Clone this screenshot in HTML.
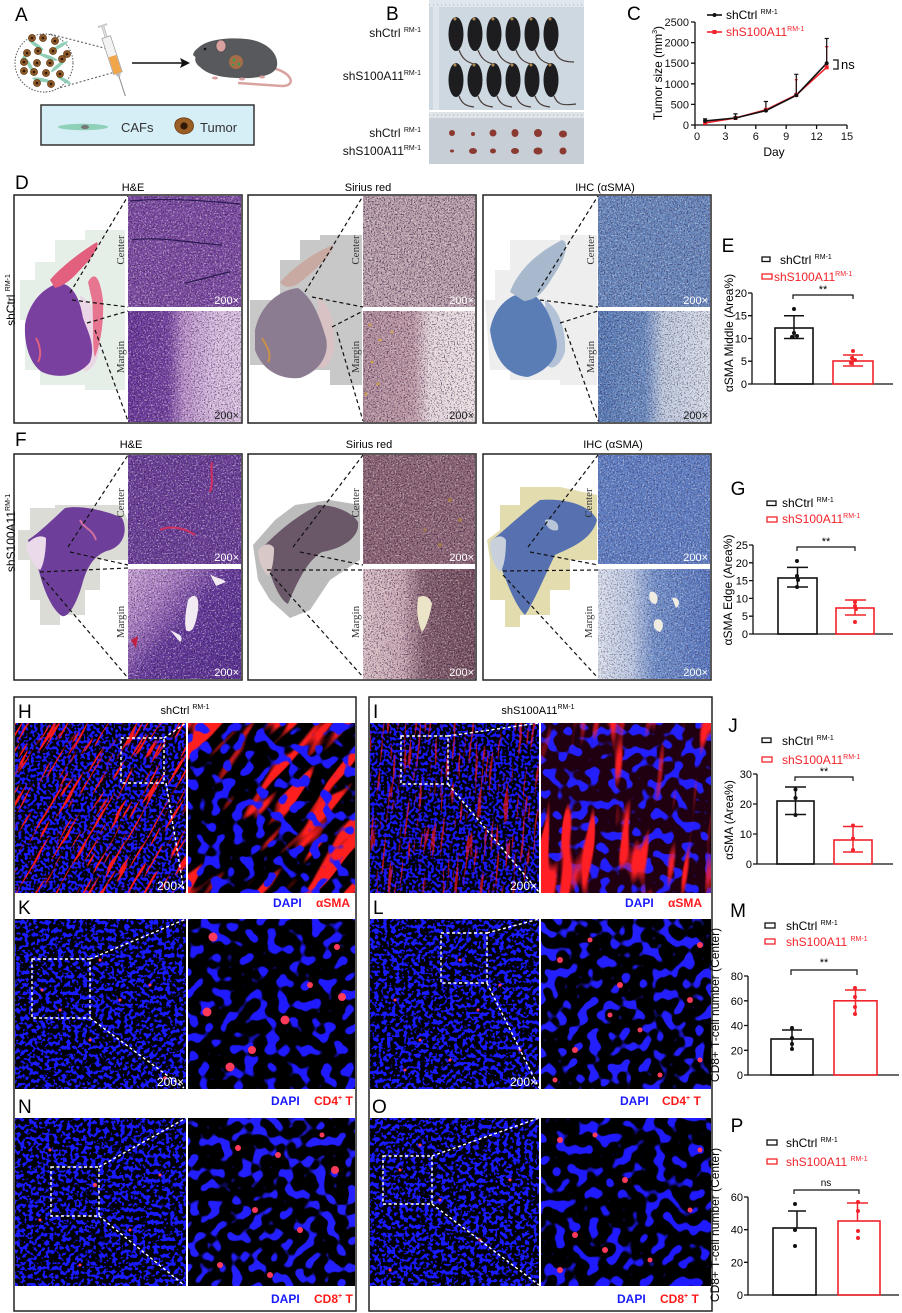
<!DOCTYPE html>
<html><head><meta charset="utf-8"><style>
html,body{margin:0;padding:0;background:#fff}
svg{display:block;font-family:"Liberation Sans",Arial,sans-serif}
.ax{stroke:#111;stroke-width:1.3;fill:none}
.bk{fill:none;stroke:#111;stroke-width:1.6}
.rd{fill:none;stroke:#f2232a;stroke-width:1.6}
.dl{stroke:#111;stroke-width:1.2;stroke-dasharray:4 3;fill:none}
.wl{stroke:#fff;stroke-width:1.4;stroke-dasharray:3 2.5;fill:none}
.bx{fill:none;stroke:#222;stroke-width:1.5}
.sv{font-family:"Liberation Serif",serif;font-size:11px;fill:#333}
.w2{fill:#fff;font-size:11px}
</style></head><body>
<svg width="902" height="1313" viewBox="0 0 902 1313" xmlns="http://www.w3.org/2000/svg">
<defs>
<filter id="spW" x="0" y="0" width="1" height="1" color-interpolation-filters="sRGB"><feTurbulence type="fractalNoise" baseFrequency="0.6" numOctaves="2" seed="1"/><feColorMatrix type="matrix" values="0 0 0 0 1 0 0 0 0 1 0 0 0 0 1 10 0 0 0 -5.6"/></filter>
<filter id="spK" x="0" y="0" width="1" height="1" color-interpolation-filters="sRGB"><feTurbulence type="fractalNoise" baseFrequency="0.7" numOctaves="2" seed="4"/><feColorMatrix type="matrix" values="0 0 0 0 0.12 0 0 0 0 0.02 0 0 0 0 0.18 10 0 0 0 -5.5"/></filter>
<filter id="nLo" x="0" y="0" width="1" height="1" color-interpolation-filters="sRGB"><feTurbulence type="fractalNoise" baseFrequency="0.32" numOctaves="1" seed="3"/><feColorMatrix type="matrix" values="0 0 0 0 0.1 0 0 0 0 0.1 0 0 0 0 1 14 0 0 0 -6.8"/></filter>
<filter id="nLo2" x="0" y="0" width="1" height="1" color-interpolation-filters="sRGB"><feTurbulence type="fractalNoise" baseFrequency="0.24" numOctaves="2" seed="11"/><feColorMatrix type="matrix" values="0 0 0 0 0.1 0 0 0 0 0.1 0 0 0 0 1 14 0 0 0 -7"/></filter>
<filter id="nHi" x="0" y="0" width="1" height="1" color-interpolation-filters="sRGB"><feTurbulence type="fractalNoise" baseFrequency="0.09" numOctaves="1" seed="5"/><feColorMatrix type="matrix" values="0 0 0 0 0.12 0 0 0 0 0.1 0 0 0 0 1 16 0 0 0 -8.6"/></filter>
<filter id="nHi2" x="0" y="0" width="1" height="1" color-interpolation-filters="sRGB"><feTurbulence type="fractalNoise" baseFrequency="0.095" numOctaves="1" seed="9"/><feColorMatrix type="matrix" values="0 0 0 0 0.14 0 0 0 0 0.12 0 0 0 0 1 16 0 0 0 -8.5"/></filter>
<filter id="fThin" x="0" y="0" width="1" height="1" color-interpolation-filters="sRGB"><feTurbulence type="fractalNoise" baseFrequency="0.025 0.35" numOctaves="2" seed="8"/><feColorMatrix type="matrix" values="0 0 0 0 1 0 0 0 0 0.1 0 0 0 0 0.1 12 0 0 0 -7.2"/></filter>
<filter id="fThick" x="0" y="0" width="1" height="1" color-interpolation-filters="sRGB"><feTurbulence type="fractalNoise" baseFrequency="0.012 0.06" numOctaves="2" seed="6"/><feColorMatrix type="matrix" values="0 0 0 0 1 0 0 0 0 0.12 0 0 0 0 0.12 12 0 0 0 -6.4"/></filter>
<filter id="fThick2" x="0" y="0" width="1" height="1" color-interpolation-filters="sRGB"><feTurbulence type="fractalNoise" baseFrequency="0.01 0.055" numOctaves="2" seed="13"/><feColorMatrix type="matrix" values="0 0 0 0 1 0 0 0 0 0.12 0 0 0 0 0.14 12 0 0 0 -6.6"/></filter>
<linearGradient id="gHEb"><stop offset="0" stop-color="#69389a"/><stop offset=".35" stop-color="#7444a0"/><stop offset=".5" stop-color="#b890c9"/><stop offset=".75" stop-color="#d4b8dd"/><stop offset="1" stop-color="#dac2e2"/></linearGradient>
<linearGradient id="gSRb"><stop offset="0" stop-color="#b08c9a"/><stop offset=".45" stop-color="#bc98a4"/><stop offset=".6" stop-color="#e4d6da"/><stop offset="1" stop-color="#ebe1e3"/></linearGradient>
<linearGradient id="gIHb"><stop offset="0" stop-color="#577ab5"/><stop offset=".42" stop-color="#6a8bc0"/><stop offset=".58" stop-color="#bdc9dd"/><stop offset="1" stop-color="#d6dde8"/></linearGradient>
<linearGradient id="gFHb" x1="0" y1="0" x2="1" y2=".8"><stop offset="0" stop-color="#caa6d6"/><stop offset=".3" stop-color="#a57ac0"/><stop offset=".55" stop-color="#64399a"/><stop offset="1" stop-color="#5a3292"/></linearGradient>
<linearGradient id="gFSb"><stop offset="0" stop-color="#d8bec4"/><stop offset=".35" stop-color="#c8a8b2"/><stop offset=".55" stop-color="#84606e"/><stop offset="1" stop-color="#76525f"/></linearGradient>
<linearGradient id="gFIb"><stop offset="0" stop-color="#d9e0ec"/><stop offset=".3" stop-color="#bac8e2"/><stop offset=".5" stop-color="#7190c9"/><stop offset="1" stop-color="#5877be"/></linearGradient>
<clipPath id="cH1"><rect x="15" y="723" width="171" height="170"/></clipPath>
<clipPath id="cH2"><rect x="188" y="723" width="167" height="170"/></clipPath>
<clipPath id="cI1"><rect x="370" y="723" width="169" height="170"/></clipPath>
<clipPath id="cI2"><rect x="541" y="723" width="170" height="170"/></clipPath>
</defs>

<!-- ===== A ===== -->
<text x="15" y="21" font-size="19">A</text>
<line x1="50" y1="34" x2="112" y2="50" stroke="#555" stroke-width="1" stroke-dasharray="2 2"/>
<line x1="45" y1="92" x2="115" y2="72" stroke="#555" stroke-width="1" stroke-dasharray="2 2"/>
<circle cx="44" cy="63" r="29" fill="#fff" stroke="#555" stroke-width="1" stroke-dasharray="1.5 1.5"/>
<g fill="#8fcfb6">
<ellipse cx="36" cy="45" rx="9" ry="1.8" transform="rotate(35 36 45)"/><ellipse cx="60" cy="46" rx="9" ry="1.8" transform="rotate(-30 60 46)"/>
<ellipse cx="30" cy="66" rx="9" ry="1.8" transform="rotate(60 30 66)"/><ellipse cx="48" cy="57" rx="10" ry="1.8" transform="rotate(20 48 57)"/>
<ellipse cx="58" cy="66" rx="9" ry="1.8" transform="rotate(-40 58 66)"/><ellipse cx="42" cy="80" rx="10" ry="1.8" transform="rotate(10 42 80)"/>
<ellipse cx="64" cy="80" rx="8" ry="1.8" transform="rotate(30 64 80)"/><ellipse cx="24" cy="58" rx="7" ry="1.8" transform="rotate(-60 24 58)"/>
</g>
<g fill="#8e5a28" stroke="#5a3512" stroke-width=".6">
<circle cx="32" cy="38" r="3.6"/><circle cx="43" cy="38" r="3.6"/><circle cx="55" cy="41" r="3.6"/><circle cx="27" cy="53" r="3.6"/><circle cx="38" cy="51" r="3.6"/><circle cx="53" cy="51" r="3.6"/><circle cx="67" cy="54" r="3.6"/><circle cx="24" cy="62" r="3.6"/><circle cx="37" cy="63" r="3.6"/><circle cx="50" cy="63" r="3.6"/><circle cx="62" cy="59" r="3.6"/><circle cx="24" cy="71" r="3.6"/><circle cx="34" cy="72" r="3.6"/><circle cx="46" cy="73" r="3.6"/><circle cx="60" cy="74" r="3.6"/><circle cx="37" cy="83" r="3.6"/><circle cx="51" cy="84" r="3.6"/>
</g>
<g fill="#2e1806"><circle cx="32" cy="38" r="1.3"/><circle cx="43" cy="38" r="1.3"/><circle cx="55" cy="41" r="1.3"/><circle cx="27" cy="53" r="1.3"/><circle cx="38" cy="51" r="1.3"/><circle cx="53" cy="51" r="1.3"/><circle cx="67" cy="54" r="1.3"/><circle cx="24" cy="62" r="1.3"/><circle cx="37" cy="63" r="1.3"/><circle cx="50" cy="63" r="1.3"/><circle cx="62" cy="59" r="1.3"/><circle cx="24" cy="71" r="1.3"/><circle cx="34" cy="72" r="1.3"/><circle cx="46" cy="73" r="1.3"/><circle cx="60" cy="74" r="1.3"/><circle cx="37" cy="83" r="1.3"/><circle cx="51" cy="84" r="1.3"/></g>
<g transform="translate(113,58) rotate(-18)">
<line x1="0" y1="18" x2="0" y2="40" stroke="#8a8a8a" stroke-width="1"/>
<rect x="-1.2" y="-34" width="2.4" height="14" fill="#ddd" stroke="#aaa" stroke-width=".5"/>
<rect x="-5" y="-35" width="10" height="2" fill="#ccc"/>
<rect x="-4.5" y="-22" width="9" height="38" fill="#f3f3f3" stroke="#999" stroke-width=".7"/>
<rect x="-4" y="-2" width="8" height="18" fill="#f0a548"/>
<path d="M-3,16 L3,16 L1,20 L-1,20Z" fill="#bbb"/>
</g>
<line x1="132" y1="63" x2="182" y2="63" stroke="#111" stroke-width="1.5"/>
<path d="M190,63 L180,58 L182,63 L180,68Z" fill="#111"/>
<path d="M272,68 C292,72 297,86 282,86 L238,83" stroke="#d9a3a0" stroke-width="2.5" fill="none"/>
<path d="M198,48 C206,40 226,37 246,39 C266,41 279,53 277,66 C275,76 256,79 236,78 C216,77 206,73 200,67 C196,64 194,60 196,56Z" fill="#58595c"/>
<path d="M194,52 C199,45 209,42 217,46 L214,62 C206,62 198,60 193,55Z" fill="#58595c"/>
<ellipse cx="221" cy="46" rx="5" ry="6" fill="#d9a0a0" stroke="#444" stroke-width=".6"/>
<circle cx="205" cy="49" r="1.3" fill="#111"/>
<ellipse cx="215" cy="78" rx="3" ry="1.5" fill="#d9a0a0"/><ellipse cx="242" cy="79" rx="3" ry="1.5" fill="#d9a0a0"/><ellipse cx="262" cy="77" rx="3" ry="1.5" fill="#d9a0a0"/>
<circle cx="236" cy="62" r="7" fill="#a76c48"/><circle cx="234" cy="60" r="1.5" fill="#3c9a50"/><circle cx="239" cy="64" r="1.5" fill="#3c9a50"/><circle cx="233" cy="65" r="1.2" fill="#3c9a50"/>
<rect x="41" y="105" width="213" height="40" fill="#d6eef6" stroke="#333" stroke-width="1.5"/>
<ellipse cx="83" cy="127" rx="25" ry="3.2" fill="#8fd1b8"/><ellipse cx="85" cy="127" rx="4" ry="2.2" fill="#777"/>
<text x="121" y="132" font-size="13" fill="#333">CAFs</text>
<path d="M176,121 C181,116 190,117 193,123 C195,130 190,134 183,134 C176,133 173,126 176,121Z" fill="#9a5e24" stroke="#6a3a10" stroke-width=".8"/>
<circle cx="184" cy="126" r="3.6" fill="#2e1806"/>
<text x="200" y="132" font-size="13" fill="#333">Tumor</text>

<!-- ===== B ===== -->
<text x="386" y="20" font-size="19">B</text>
<g font-size="12" text-anchor="end" fill="#111">
<text x="421" y="37">shCtrl <tspan font-size="7" dy="-5">RM-1</tspan></text>
<text x="421" y="80">shS100A11<tspan font-size="7" dy="-5">RM-1</tspan></text>
<text x="421" y="137">shCtrl <tspan font-size="7" dy="-5">RM-1</tspan></text>
<text x="421" y="155">shS100A11<tspan font-size="7" dy="-5">RM-1</tspan></text>
</g>
<rect x="429" y="0" width="155" height="110" fill="#cdd8e1"/>
<rect x="429" y="0" width="155" height="7" fill="#dfe6ec"/>
<line x1="429" y1="5" x2="584" y2="5" stroke="#9aa" stroke-width=".8" stroke-dasharray="1 3"/>
<rect x="433" y="7" width="6" height="103" fill="#dde4ea"/>
<rect x="429" y="112" width="155" height="52" fill="#c7ced5"/>
<rect x="429" y="112" width="155" height="6" fill="#dfe4e8"/>
<line x1="429" y1="115" x2="584" y2="115" stroke="#9aa" stroke-width=".8" stroke-dasharray="1 3"/>
<g stroke="#4a3c38" stroke-width="1.2" fill="none">
<path d="M459,50 C462,58 466,62 474,64"/><path d="M478,50 C481,58 485,62 493,64"/><path d="M497,50 C500,58 504,62 512,64"/><path d="M516,50 C519,58 523,62 531,64"/><path d="M535,50 C538,58 542,62 550,64"/><path d="M554,50 C557,58 561,62 574,62"/>
<path d="M459,96 C462,104 466,106 474,107"/><path d="M478,96 C481,104 485,106 493,107"/><path d="M497,96 C500,104 504,106 512,107"/><path d="M516,96 C519,104 523,106 531,107"/><path d="M535,96 C538,104 542,106 550,107"/><path d="M554,96 C557,104 561,106 576,104"/>
</g>
<g fill="#1d1d20">
<ellipse cx="456" cy="34" rx="7.5" ry="17"/><ellipse cx="475" cy="34" rx="7.5" ry="17"/><ellipse cx="494" cy="34" rx="7.5" ry="17"/><ellipse cx="513" cy="34" rx="7.5" ry="17"/><ellipse cx="532" cy="34" rx="7.5" ry="17"/><ellipse cx="551" cy="34" rx="7.5" ry="17"/>
<ellipse cx="456" cy="80" rx="7.5" ry="17"/><ellipse cx="475" cy="80" rx="7.5" ry="17"/><ellipse cx="494" cy="80" rx="7.5" ry="17"/><ellipse cx="513" cy="80" rx="7.5" ry="17"/><ellipse cx="532" cy="80" rx="7.5" ry="17"/><ellipse cx="551" cy="80" rx="7.5" ry="17"/>
</g>
<g fill="#b08a50"><circle cx="455" cy="19" r="1.5"/><circle cx="474" cy="19" r="1.5"/><circle cx="493" cy="19" r="1.5"/><circle cx="512" cy="19" r="1.5"/><circle cx="531" cy="19" r="1.5"/><circle cx="550" cy="19" r="1.5"/><circle cx="455" cy="65" r="1.5"/><circle cx="474" cy="65" r="1.5"/><circle cx="493" cy="65" r="1.5"/><circle cx="512" cy="65" r="1.5"/><circle cx="531" cy="65" r="1.5"/><circle cx="550" cy="65" r="1.5"/></g>
<g fill="#8a3a30">
<ellipse cx="452" cy="133" rx="3" ry="3"/><ellipse cx="473" cy="134" rx="2" ry="2"/><ellipse cx="493" cy="133" rx="3.5" ry="3.5"/><ellipse cx="515" cy="133" rx="3.5" ry="4"/><ellipse cx="538" cy="133" rx="4" ry="4"/><ellipse cx="563" cy="134" rx="4" ry="3.5"/>
<ellipse cx="452" cy="151" rx="2" ry="1.5"/><ellipse cx="473" cy="151" rx="4" ry="3"/><ellipse cx="493" cy="151" rx="3" ry="2.5"/><ellipse cx="515" cy="151" rx="4" ry="3"/><ellipse cx="538" cy="151" rx="4.5" ry="3.5"/><ellipse cx="563" cy="151" rx="3.5" ry="3.5"/>
</g>

<!-- ===== C ===== -->
<text x="627" y="20" font-size="19">C</text>
<g class="ax"><line x1="695" y1="22" x2="695" y2="125"/><line x1="695" y1="125" x2="847" y2="125"/>
<path d="M691,125H695M691,104.4H695M691,83.8H695M691,63.2H695M691,42.6H695M691,22H695"/>
<path d="M695,125V129M725.4,125V129M755.8,125V129M786.2,125V129M816.6,125V129M847,125V129"/></g>
<g font-size="11" text-anchor="end" fill="#111"><text x="689" y="129">0</text><text x="689" y="108.4">500</text><text x="689" y="87.8">1000</text><text x="689" y="67.2">1500</text><text x="689" y="46.6">2000</text><text x="689" y="26">2500</text></g>
<g font-size="11" text-anchor="middle" fill="#111"><text x="697" y="140">0</text><text x="725.4" y="140">3</text><text x="755.8" y="140">6</text><text x="786.2" y="140">9</text><text x="816.6" y="140">12</text><text x="847" y="140">15</text></g>
<text x="774" y="156" font-size="12" text-anchor="middle">Day</text>
<text transform="translate(662,73) rotate(-90)" font-size="12" text-anchor="middle">Tumor size (mm<tspan font-size="7" dy="-5">3</tspan><tspan dy="5">)</tspan></text>
<g stroke="#f2232a" stroke-width="1.2"><line x1="796.3" y1="94.9" x2="796.3" y2="79.7"/><line x1="826.7" y1="67.3" x2="826.7" y2="46.7"/><line x1="794.8" y1="79.7" x2="797.8" y2="79.7"/><line x1="825" y1="46.7" x2="828.4" y2="46.7"/></g>
<g stroke="#111" stroke-width="1.2"><path d="M705.1,120.9V118.8M703,118.8H707.2M735.5,118V113.9M733.4,113.9H737.6M765.9,110.6V101.5M763.8,101.5H768M796.3,95.3V74.3M794.2,74.3H798.4M826.7,63.2V38.5M824.6,38.5H828.8"/></g>
<polyline points="705.1,122.9 735.5,118 765.9,109.8 796.3,94.9 826.7,67.3" fill="none" stroke="#f2232a" stroke-width="1.6"/>
<polyline points="705.1,120.9 735.5,118 765.9,110.6 796.3,95.3 826.7,63.2" fill="none" stroke="#111" stroke-width="1.6"/>
<g fill="#f2232a"><rect x="703.1" y="120.9" width="4" height="4"/><rect x="733.5" y="116" width="4" height="4"/><rect x="763.9" y="107.8" width="4" height="4"/><rect x="794.3" y="92.9" width="4" height="4"/><rect x="824.7" y="65.3" width="4" height="4"/></g>
<g fill="#111"><circle cx="705.1" cy="120.9" r="2"/><circle cx="735.5" cy="118" r="2"/><circle cx="765.9" cy="110.6" r="2"/><circle cx="796.3" cy="95.3" r="2"/><circle cx="826.7" cy="63.2" r="2"/></g>
<path d="M833,60H838V69H833" fill="none" stroke="#111" stroke-width="1.3"/>
<text x="841" y="69" font-size="13">ns</text>
<line x1="707" y1="15" x2="722" y2="15" stroke="#111" stroke-width="1.6"/><circle cx="714.5" cy="15" r="2" fill="#111"/>
<text x="726" y="19" font-size="12">shCtrl <tspan font-size="7" dy="-5">RM-1</tspan></text>
<line x1="707" y1="32" x2="722" y2="32" stroke="#f2232a" stroke-width="1.6"/><rect x="712.5" y="30" width="4" height="4" fill="#f2232a"/>
<text x="726" y="36" font-size="12" fill="#f2232a">shS100A11<tspan font-size="7" dy="-5">RM-1</tspan></text>

<!-- ===== D ===== -->
<text x="15" y="189" font-size="19">D</text>
<text x="133" y="191" font-size="11" text-anchor="middle">H&amp;E</text>
<text x="368" y="191" font-size="11" text-anchor="middle">Sirius red</text>
<text x="605" y="191" font-size="11" text-anchor="middle">IHC (αSMA)</text>
<text transform="translate(15,300) rotate(-90)" font-size="12" text-anchor="middle">shCtrl <tspan font-size="7" dy="-5">RM-1</tspan></text>
<!-- H&E D -->
<path d="M20,280H35V262H55V240H85V230H125V390H85V385H40V370H25V320H20Z" fill="#e6eee8"/>
<path d="M80,296 C92,300 100,320 100,345 C98,362 92,370 84,372 L80,330Z" fill="#ead6e4"/>
<path d="M25,325 C28,305 42,287 60,283 C74,285 80,300 83,318 C88,332 96,346 90,362 C80,375 60,380 42,372 C30,364 24,345 25,325Z" fill="#7a409f"/>
<path d="M50,280 C60,268 80,252 97,242 C100,246 92,258 80,270 C72,279 64,286 55,288Z" fill="#e2607e"/>
<path d="M88,282 C95,270 100,278 103,300 C104,325 100,345 95,357 C92,350 94,320 92,300Z" fill="#e67590"/>
<path d="M36,338 C40,345 42,355 38,362" stroke="#e06080" stroke-width="2" fill="none"/>
<rect x="128" y="196" width="113" height="111" fill="#7b4ba1"/>
<rect x="128" y="196" width="113" height="111" fill="#000" filter="url(#spW)" opacity=".4"/>
<rect x="128" y="196" width="113" height="111" fill="#000" filter="url(#spK)" opacity=".45"/>
<path d="M130,201 C160,198 200,200 240,204 M132,240 C160,236 190,243 222,245 M185,283 C200,280 215,275 230,272" stroke="#2a1a50" stroke-width="1.2" fill="none"/>
<rect x="128" y="311" width="113" height="111" fill="url(#gHEb)"/>
<rect x="128" y="311" width="113" height="111" fill="#000" filter="url(#spW)" opacity=".4"/>
<rect x="128" y="311" width="113" height="111" fill="#000" filter="url(#spK)" opacity=".45"/>
<text class="w2" x="239" y="304" text-anchor="end">200×</text>
<text x="239" y="419" font-size="11" text-anchor="end" fill="#222">200×</text>
<text class="sv" transform="translate(124,250) rotate(-90)" text-anchor="middle">Center</text>
<text class="sv" transform="translate(124,357) rotate(-90)" text-anchor="middle">Margin</text>
<path class="dl" d="M70,293L128,196M72,300L128,307M87,323L128,311M95,330L128,421"/>
<rect class="bx" x="14" y="195" width="228" height="228"/>
<!-- Sirius D -->
<path d="M250,300H280V260H300V240H320V235H362V385H330V370H285V365H250Z" fill="#c8c8c8"/>
<path d="M318,298 C332,305 336,330 334,352 C330,365 322,370 318,368Z" fill="#d8c2c4"/>
<path d="M255,330 C260,306 278,290 298,288 C313,298 320,318 326,338 C330,356 318,372 300,378 C280,380 262,370 255,350Z" fill="#8c7c92"/>
<path d="M280,282 C295,266 315,252 333,245 C336,250 318,268 298,284 C290,288 284,288 280,282Z" fill="#c9aaa2"/>
<path d="M262,338 C268,348 272,355 268,362" stroke="#c89048" stroke-width="2" fill="none"/>
<rect x="363" y="196" width="112" height="111" fill="#b99fa9"/>
<rect x="363" y="196" width="112" height="111" fill="#000" filter="url(#spW)" opacity=".45"/>
<rect x="363" y="196" width="112" height="111" fill="#000" filter="url(#spK)" opacity=".55"/>
<rect x="363" y="311" width="112" height="111" fill="url(#gSRb)"/>
<rect x="363" y="311" width="112" height="111" fill="#000" filter="url(#spK)" opacity=".5"/>
<rect x="363" y="311" width="112" height="111" fill="#000" filter="url(#spW)" opacity=".35"/>
<g fill="#d4a838" opacity=".8"><circle cx="370" cy="325" r="1.5"/><circle cx="380" cy="340" r="1.5"/><circle cx="372" cy="362" r="1.5"/><circle cx="392" cy="332" r="1.3"/><circle cx="378" cy="384" r="1.5"/><circle cx="366" cy="394" r="1.5"/></g>
<text class="w2" x="474" y="304" text-anchor="end">200×</text>
<text x="474" y="419" font-size="11" text-anchor="end" fill="#222">200×</text>
<text class="sv" transform="translate(359,250) rotate(-90)" text-anchor="middle">Center</text>
<text class="sv" transform="translate(359,357) rotate(-90)" text-anchor="middle">Margin</text>
<path class="dl" d="M305,292L363,196M312,297L363,307M332,327L363,311M337,332L363,421"/>
<rect class="bx" x="248" y="195" width="228" height="228"/>
<!-- IHC D -->
<path d="M485,300H495V270H510V240H560V235H597V385H560V380H510V370H490Z" fill="#eeeeee"/>
<path d="M545,300 C560,310 566,330 565,352 C560,366 552,370 548,366Z" fill="#b4c2d8"/>
<path d="M490,330 C494,308 508,293 530,292 C546,302 552,320 556,338 C560,355 550,370 528,377 C508,376 494,360 490,330Z" fill="#5a7db6"/>
<path d="M510,292 C518,270 538,252 562,240 C570,242 566,258 552,278 C544,292 536,300 524,301Z" fill="#a9b9cd"/>
<rect x="598" y="196" width="112" height="111" fill="#6887bc"/>
<rect x="598" y="196" width="112" height="111" fill="#000" filter="url(#spW)" opacity=".35"/>
<rect x="598" y="196" width="112" height="111" fill="#000" filter="url(#spK)" opacity=".4"/>
<rect x="598" y="311" width="112" height="111" fill="url(#gIHb)"/>
<rect x="598" y="311" width="112" height="111" fill="#000" filter="url(#spW)" opacity=".35"/>
<rect x="598" y="311" width="112" height="111" fill="#000" filter="url(#spK)" opacity=".4"/>
<text class="w2" x="708" y="304" text-anchor="end">200×</text>
<text x="708" y="419" font-size="11" text-anchor="end" fill="#222">200×</text>
<text class="sv" transform="translate(594,250) rotate(-90)" text-anchor="middle">Center</text>
<text class="sv" transform="translate(594,357) rotate(-90)" text-anchor="middle">Margin</text>
<path class="dl" d="M538,292L598,196M540,300L598,307M560,323L598,311M565,328L598,421"/>
<rect class="bx" x="483" y="195" width="228" height="228"/>

<!-- ===== E ===== -->
<text x="728" y="252" font-size="19" text-anchor="middle">E</text>
<rect x="762" y="257" width="8" height="4.5" fill="none" stroke="#111" stroke-width="1.3"/>
<text x="780" y="264" font-size="12">shCtrl <tspan font-size="7" dy="-5">RM-1</tspan></text>
<rect x="762" y="274" width="10" height="5" fill="none" stroke="#f2232a" stroke-width="1.3"/>
<text x="774" y="281" font-size="12" fill="#f2232a">shS100A11<tspan font-size="7" dy="-5">RM-1</tspan></text>
<g class="ax"><path d="M752,293V384H893"/><path d="M748,384H752M748,361.2H752M748,338.5H752M748,315.7H752M748,293H752"/></g>
<g font-size="11" text-anchor="end"><text x="747" y="388">0</text><text x="747" y="365">5</text><text x="747" y="342.5">10</text><text x="747" y="319.7">15</text><text x="747" y="297">20</text></g>
<text transform="translate(733,333) rotate(-90)" font-size="12" text-anchor="middle">αSMA Middle (Area%)</text>
<rect class="bk" x="775" y="328" width="38" height="56"/>
<path d="M794,315.7V338.5M784,315.7H804M784,338.5H804" stroke="#111" stroke-width="1.5"/>
<g fill="#111"><circle cx="794" cy="309" r="2"/><circle cx="794" cy="333" r="2"/><circle cx="797" cy="336" r="2"/><circle cx="792" cy="337" r="2"/></g>
<rect class="rd" x="833" y="361" width="40" height="23"/>
<path d="M853,355V366M843,355H863M843,366H863" stroke="#f2232a" stroke-width="1.5"/>
<g fill="#f2232a"><circle cx="853" cy="351" r="2"/><circle cx="852" cy="358" r="2"/><circle cx="855" cy="360" r="2"/><circle cx="851" cy="363" r="2"/></g>
<path d="M793,299V295H853V299" fill="none" stroke="#111" stroke-width="1.2"/>
<text x="823" y="293" font-size="11" text-anchor="middle">**</text>

<!-- ===== F ===== -->
<text x="15" y="446" font-size="19">F</text>
<text x="131" y="448" font-size="11" text-anchor="middle">H&amp;E</text>
<text x="369" y="448" font-size="11" text-anchor="middle">Sirius red</text>
<text x="613" y="448" font-size="11" text-anchor="middle">IHC (αSMA)</text>
<text transform="translate(15,533) rotate(-90)" font-size="12" text-anchor="middle">shS100A11<tspan font-size="7" dy="-5">RM-1</tspan></text>
<!-- H&E F -->
<path d="M18,530H30V508H55V505H120L128,520V560H100V590H85V615H60V625H40V600H30V560H18Z" fill="#dcdcd6"/>
<path d="M28,540 C40,532 52,520 65,508 C80,505 105,510 122,518 C128,530 124,545 110,550 C98,553 88,562 82,585 C76,605 68,618 62,616 C52,610 44,590 40,575 C36,560 32,552 28,540Z" fill="#6e3f9a"/>
<path d="M26,545 C32,538 40,534 46,538 C46,550 44,565 40,570 C34,566 28,556 26,545Z" fill="#eadaea"/>
<path d="M80,520 C85,530 92,528 96,540" stroke="#d070a0" stroke-width="2" fill="none"/>
<rect x="128" y="455" width="113" height="109" fill="#6a3f98"/>
<rect x="128" y="455" width="113" height="109" fill="#000" filter="url(#spW)" opacity=".4"/>
<rect x="128" y="455" width="113" height="109" fill="#000" filter="url(#spK)" opacity=".45"/>
<path d="M212,462 C210,472 214,482 210,492 M160,530 C170,525 185,528 195,535" stroke="#d03060" stroke-width="2" fill="none"/>
<rect x="128" y="569" width="113" height="110" fill="url(#gFHb)"/>
<rect x="128" y="569" width="113" height="110" fill="#000" filter="url(#spW)" opacity=".4"/>
<rect x="128" y="569" width="113" height="110" fill="#000" filter="url(#spK)" opacity=".45"/>
<path d="M188,600 C194,592 200,596 198,610 C196,625 192,635 186,630 C184,620 186,610 188,600Z M210,574 C215,578 222,578 226,582 L216,586Z M170,630 C178,634 185,636 180,642Z" fill="#f2eaf2"/>
<path d="M131,640 L138,636 L136,648Z" fill="#c02040"/>
<text class="w2" x="239" y="561" text-anchor="end">200×</text>
<text class="w2" x="239" y="676" text-anchor="end">200×</text>
<text class="sv" transform="translate(124,503) rotate(-90)" text-anchor="middle">Center</text>
<text class="sv" transform="translate(124,622) rotate(-90)" text-anchor="middle">Margin</text>
<path class="dl" d="M68,547L128,455M70,552L128,565M40,572L128,568M42,577L128,678"/>
<rect class="bx" x="14" y="454" width="228" height="226"/>
<!-- Sirius F -->
<path d="M253,545 L275,520 L295,505 L330,500 L360,505 L360,560 L330,580 L310,610 L290,618 L270,600 L258,580Z" fill="#bcbcbc"/>
<path d="M262,548 C275,535 290,520 318,505 C335,505 352,512 358,522 C360,536 345,548 322,552 C308,560 298,580 288,604 C280,600 272,582 268,565Z" fill="#6a5868"/>
<path d="M258,550 C264,544 270,542 274,548 C274,560 272,572 268,576 C262,570 258,560 258,550Z" fill="#d8c8c8"/>
<rect x="363" y="455" width="112" height="109" fill="#8d6675"/>
<rect x="363" y="455" width="112" height="109" fill="#000" filter="url(#spW)" opacity=".35"/>
<rect x="363" y="455" width="112" height="109" fill="#000" filter="url(#spK)" opacity=".5"/>
<g fill="#b08838" opacity=".7"><circle cx="450" cy="500" r="2"/><circle cx="460" cy="520" r="2"/><circle cx="440" cy="545" r="2"/><circle cx="425" cy="530" r="1.5"/></g>
<rect x="363" y="569" width="112" height="110" fill="url(#gFSb)"/>
<rect x="363" y="569" width="112" height="110" fill="#000" filter="url(#spW)" opacity=".35"/>
<rect x="363" y="569" width="112" height="110" fill="#000" filter="url(#spK)" opacity=".5"/>
<path d="M418,598 C422,594 430,596 432,604 C430,615 426,628 422,632 C418,624 416,610 418,598Z" fill="#ece4c8"/>
<text class="w2" x="474" y="561" text-anchor="end">200×</text>
<text class="w2" x="474" y="676" text-anchor="end">200×</text>
<text class="sv" transform="translate(359,503) rotate(-90)" text-anchor="middle">Center</text>
<text class="sv" transform="translate(359,622) rotate(-90)" text-anchor="middle">Margin</text>
<path class="dl" d="M293,547L363,455M300,552L363,565M267,570L363,570M270,573L363,677"/>
<rect class="bx" x="248" y="454" width="228" height="226"/>
<!-- IHC F -->
<path d="M487,540L500,530V505H520V487H560L597,495V560H570V590H550V615H520V627H505V600H490V560Z" fill="#e2dcae"/>
<path d="M492,540 C505,530 520,515 540,500 C565,498 590,505 597,520 C592,540 570,548 555,555 C545,575 535,600 525,615 C515,605 508,585 500,565Z" fill="#5670b0"/>
<path d="M490,542 C496,536 502,534 506,540 C506,555 504,568 500,572 C494,566 490,556 490,542Z" fill="#c8d0dc"/>
<path d="M545,520 C552,518 560,522 558,530 C552,532 546,528 545,520Z" fill="#b8c4d8"/>
<rect x="598" y="455" width="112" height="109" fill="#5f7ec2"/>
<rect x="598" y="455" width="112" height="109" fill="#000" filter="url(#spW)" opacity=".35"/>
<rect x="598" y="455" width="112" height="109" fill="#000" filter="url(#spK)" opacity=".35"/>
<rect x="598" y="569" width="112" height="110" fill="url(#gFIb)"/>
<rect x="598" y="569" width="112" height="110" fill="#000" filter="url(#spW)" opacity=".35"/>
<rect x="598" y="569" width="112" height="110" fill="#000" filter="url(#spK)" opacity=".35"/>
<g fill="#f0ece2"><path d="M650,592 C656,590 660,598 656,604 C650,604 648,598 650,592Z"/><path d="M655,620 C662,616 666,626 660,632 C654,630 652,626 655,620Z"/><path d="M672,598 C678,596 682,604 676,608Z"/></g>
<text class="w2" x="708" y="561" text-anchor="end">200×</text>
<text class="w2" x="708" y="676" text-anchor="end">200×</text>
<text class="sv" transform="translate(592,503) rotate(-90)" text-anchor="middle">Center</text>
<text class="sv" transform="translate(592,622) rotate(-90)" text-anchor="middle">Margin</text>
<path class="dl" d="M528,547L598,455M530,552L598,565M503,571L598,570M503,575L598,678"/>
<rect class="bx" x="483" y="454" width="228" height="226"/>

<!-- ===== G ===== -->
<text x="738" y="495" font-size="19" text-anchor="middle">G</text>
<rect x="767" y="501" width="9" height="4.5" fill="none" stroke="#111" stroke-width="1.3"/>
<text x="782" y="507" font-size="12">shCtrl <tspan font-size="7" dy="-5">RM-1</tspan></text>
<rect x="767" y="517" width="10" height="5" fill="none" stroke="#f2232a" stroke-width="1.3"/>
<text x="782" y="523" font-size="12" fill="#f2232a">shS100A11<tspan font-size="7" dy="-5">RM-1</tspan></text>
<g class="ax"><path d="M753,545V634H893"/><path d="M749,634H753M749,616.2H753M749,598.4H753M749,580.6H753M749,562.8H753M749,545H753"/></g>
<g font-size="11" text-anchor="end"><text x="748" y="638">0</text><text x="748" y="620">5</text><text x="748" y="602.4">10</text><text x="748" y="584.6">15</text><text x="748" y="566.8">20</text><text x="748" y="549">25</text></g>
<text transform="translate(732,590) rotate(-90)" font-size="12" text-anchor="middle">αSMA Edge (Area%)</text>
<rect class="bk" x="778" y="578" width="39" height="56"/>
<path d="M797.5,567.4V587M787,567.4H808M787,587H808" stroke="#111" stroke-width="1.5"/>
<g fill="#111"><circle cx="797" cy="561" r="2"/><circle cx="797" cy="576" r="2"/><circle cx="798" cy="580" r="2"/><circle cx="797" cy="587" r="2"/></g>
<rect class="rd" x="836" y="608" width="38" height="26"/>
<path d="M855,600V615M845,600H866M845,615H866" stroke="#f2232a" stroke-width="1.5"/>
<g fill="#f2232a"><circle cx="855" cy="602" r="2"/><circle cx="855" cy="606" r="2"/><circle cx="856" cy="609" r="2"/><circle cx="855" cy="622" r="2"/></g>
<path d="M797,551V547H855V551" fill="none" stroke="#111" stroke-width="1.2"/>
<text x="826" y="545" font-size="11" text-anchor="middle">**</text>

<!-- ===== Fluorescence columns ===== -->
<!-- H left -->
<rect x="15" y="723" width="171" height="170" fill="#000"/>
<rect x="15" y="723" width="171" height="170" fill="#000" filter="url(#nLo)"/>
<g clip-path="url(#cH1)"><g transform="rotate(-60 100 808)"><rect x="-30" y="678" width="260" height="260" fill="#000" filter="url(#fThin)"/></g></g>
<!-- H right -->
<rect x="188" y="723" width="167" height="170" fill="#000"/>
<g clip-path="url(#cH2)"><g transform="rotate(-50 271 808)"><rect x="141" y="678" width="260" height="260" fill="#000" filter="url(#fThick)"/></g></g>
<rect x="188" y="723" width="167" height="170" fill="#000" filter="url(#nHi)"/>
<!-- I left -->
<rect x="370" y="723" width="169" height="170" fill="#000"/>
<rect x="370" y="723" width="169" height="170" fill="#000" filter="url(#nLo)" opacity=".95"/>
<g clip-path="url(#cI1)"><g transform="rotate(-85 455 808)"><rect x="325" y="678" width="260" height="260" fill="#000" filter="url(#fThin)" opacity=".65"/></g></g>
<!-- I right -->
<rect x="541" y="723" width="170" height="170" fill="#200010"/>
<rect x="541" y="723" width="170" height="170" fill="#000" filter="url(#nHi2)"/>
<g clip-path="url(#cI2)"><g transform="rotate(-84 626 808)"><rect x="496" y="678" width="260" height="260" fill="#000" filter="url(#fThick2)"/></g></g>
<!-- K/L/N/O -->
<rect x="15" y="919" width="171" height="170" fill="#000"/><rect x="15" y="919" width="171" height="170" fill="#000" filter="url(#nLo2)"/>
<rect x="188" y="919" width="167" height="170" fill="#000"/><rect x="188" y="919" width="167" height="170" fill="#000" filter="url(#nHi)"/>
<rect x="370" y="919" width="169" height="170" fill="#000"/><rect x="370" y="919" width="169" height="170" fill="#000" filter="url(#nLo2)"/>
<rect x="541" y="919" width="170" height="170" fill="#000"/><rect x="541" y="919" width="170" height="170" fill="#000" filter="url(#nHi2)"/>
<rect x="15" y="1118" width="171" height="168" fill="#000"/><rect x="15" y="1118" width="171" height="168" fill="#000" filter="url(#nLo2)"/>
<rect x="188" y="1118" width="167" height="168" fill="#000"/><rect x="188" y="1118" width="167" height="168" fill="#000" filter="url(#nHi2)"/>
<rect x="370" y="1118" width="169" height="168" fill="#000"/><rect x="370" y="1118" width="169" height="168" fill="#000" filter="url(#nLo2)"/>
<rect x="541" y="1118" width="170" height="168" fill="#000"/><rect x="541" y="1118" width="170" height="168" fill="#000" filter="url(#nHi)"/>
<!-- red cells -->
<g fill="#ff3a5a">
<circle cx="213" cy="937" r="4.5"/><circle cx="207" cy="1012" r="4.5"/><circle cx="285" cy="1020" r="4.5"/><circle cx="342" cy="997" r="4"/><circle cx="252" cy="1050" r="4"/><circle cx="230" cy="1067" r="4.5"/><circle cx="337" cy="947" r="3"/><circle cx="310" cy="985" r="3"/>
<circle cx="42" cy="990" r="1.5"/><circle cx="60" cy="1010" r="1.5"/><circle cx="120" cy="1000" r="1.5"/><circle cx="150" cy="985" r="1.5"/><circle cx="90" cy="1040" r="1.5"/><circle cx="165" cy="1078" r="1.8"/><circle cx="100" cy="960" r="1.5"/>
<circle cx="395" cy="1000" r="1.5"/><circle cx="420" cy="1040" r="1.5"/><circle cx="460" cy="960" r="1.5"/><circle cx="478" cy="1010" r="1.5"/><circle cx="500" cy="985" r="1.5"/><circle cx="450" cy="1060" r="1.5"/><circle cx="520" cy="1050" r="1.5"/><circle cx="405" cy="1070" r="1.5"/>
<circle cx="560" cy="960" r="3"/><circle cx="590" cy="940" r="2.5"/><circle cx="620" cy="985" r="3"/><circle cx="700" cy="945" r="3"/><circle cx="690" cy="1000" r="3"/><circle cx="640" cy="1030" r="2.5"/><circle cx="575" cy="1050" r="3"/><circle cx="660" cy="1075" r="2.5"/><circle cx="610" cy="1015" r="2.5"/><circle cx="700" cy="1060" r="2.5"/><circle cx="555" cy="1080" r="2.5"/>
<circle cx="95" cy="1185" r="2"/><circle cx="50" cy="1150" r="1.5"/><circle cx="130" cy="1230" r="1.5"/><circle cx="80" cy="1265" r="1.5"/><circle cx="160" cy="1175" r="1.5"/><circle cx="40" cy="1220" r="1.5"/>
<circle cx="238" cy="1148" r="3"/><circle cx="278" cy="1155" r="3"/><circle cx="335" cy="1170" r="4"/><circle cx="255" cy="1210" r="3"/><circle cx="300" cy="1230" r="3"/><circle cx="220" cy="1265" r="3"/><circle cx="322" cy="1135" r="2.5"/><circle cx="270" cy="1275" r="3"/>
<circle cx="400" cy="1170" r="1.5"/><circle cx="440" cy="1200" r="1.5"/><circle cx="420" cy="1145" r="1.5"/><circle cx="480" cy="1240" r="1.5"/><circle cx="510" cy="1180" r="1.5"/><circle cx="390" cy="1270" r="1.5"/>
<circle cx="560" cy="1140" r="3"/><circle cx="595" cy="1135" r="2.5"/><circle cx="625" cy="1180" r="3"/><circle cx="700" cy="1150" r="2.5"/><circle cx="575" cy="1235" r="3"/><circle cx="650" cy="1260" r="2.5"/><circle cx="605" cy="1250" r="3"/><circle cx="690" cy="1210" r="2.5"/><circle cx="560" cy="1270" r="3"/>
</g>
<!-- dashed zoom boxes -->
<g class="wl">
<rect x="121" y="738" width="43" height="45"/><path d="M164,738L186,723M166,783L184,891"/>
<rect x="401" y="736" width="47" height="48"/><path d="M448,736L539,723M448,784L539,892"/>
<rect x="32" y="959" width="58" height="59"/><path d="M90,959L186,919M90,1018L184,1088"/>
<rect x="441" y="933" width="46" height="50"/><path d="M487,933L539,919M487,983L539,1088"/>
<rect x="51" y="1167" width="48" height="49"/><path d="M99,1167L186,1118M99,1216L184,1285"/>
<rect x="383" y="1156" width="49" height="48"/><path d="M432,1156L539,1118M432,1204L539,1285"/>
</g>
<g fill="#fff" font-size="12" text-anchor="end"><text x="184" y="890">200×</text><text x="537" y="890">200×</text><text x="184" y="1086">200×</text><text x="537" y="1086">200×</text></g>
<!-- bars / labels -->
<text x="18" y="718" font-size="19">H</text>
<text x="185" y="714" font-size="11" text-anchor="middle">shCtrl <tspan font-size="7" dy="-5">RM-1</tspan></text>
<text x="373" y="718" font-size="19">I</text>
<text x="538" y="714" font-size="11" text-anchor="middle">shS100A11<tspan font-size="7" dy="-5">RM-1</tspan></text>
<text x="18" y="914" font-size="19">K</text>
<text x="373" y="914" font-size="19">L</text>
<text x="18" y="1113" font-size="19">N</text>
<text x="372" y="1113" font-size="19">O</text>
<g font-size="12" font-weight="bold">
<text x="273" y="907" fill="#1a1aff">DAPI</text><text x="316" y="907" fill="#ff1a1a">αSMA</text>
<text x="625" y="907" fill="#1a1aff">DAPI</text><text x="668" y="907" fill="#ff1a1a">αSMA</text>
<text x="271" y="1105" fill="#1a1aff">DAPI</text><text x="314" y="1105" fill="#ff1a1a">CD4<tspan font-size="7" dy="-5">+</tspan><tspan dy="5"> T</tspan></text>
<text x="620" y="1105" fill="#1a1aff">DAPI</text><text x="662" y="1105" fill="#ff1a1a">CD4<tspan font-size="7" dy="-5">+</tspan><tspan dy="5"> T</tspan></text>
<text x="271" y="1303" fill="#1a1aff">DAPI</text><text x="314" y="1303" fill="#ff1a1a">CD8<tspan font-size="7" dy="-5">+</tspan><tspan dy="5"> T</tspan></text>
<text x="617" y="1303" fill="#1a1aff">DAPI</text><text x="660" y="1303" fill="#ff1a1a">CD8<tspan font-size="7" dy="-5">+</tspan><tspan dy="5"> T</tspan></text>
</g>
<rect class="bx" x="14" y="697" width="342" height="614"/>
<rect class="bx" x="369" y="697" width="343" height="614"/>

<!-- ===== J ===== -->
<text x="733" y="732" font-size="19" text-anchor="middle">J</text>
<rect x="762" y="738" width="9" height="4.5" fill="none" stroke="#111" stroke-width="1.3"/>
<text x="782" y="745" font-size="12">shCtrl <tspan font-size="7" dy="-5">RM-1</tspan></text>
<rect x="762" y="757" width="10" height="5" fill="none" stroke="#f2232a" stroke-width="1.3"/>
<text x="782" y="764" font-size="12" fill="#f2232a">shS100A11<tspan font-size="7" dy="-5">RM-1</tspan></text>
<g class="ax"><path d="M757,774V864H893"/><path d="M753,864H757M753,834H757M753,804H757M753,774H757"/></g>
<g font-size="11" text-anchor="end"><text x="752" y="868">0</text><text x="752" y="838">10</text><text x="752" y="808">20</text><text x="752" y="778">30</text></g>
<text transform="translate(733,820) rotate(-90)" font-size="12" text-anchor="middle">αSMA (Area%)</text>
<rect class="bk" x="777" y="801" width="37" height="63"/>
<path d="M795.5,787V814.5M785,787H806M785,814.5H806" stroke="#111" stroke-width="1.5"/>
<g fill="#111"><circle cx="795.5" cy="789.5" r="2"/><circle cx="795.5" cy="798" r="2"/><circle cx="795.5" cy="815" r="2"/></g>
<rect class="rd" x="834" y="840" width="38" height="24"/>
<path d="M853,826.5V852M843,826.5H863M843,852H863" stroke="#f2232a" stroke-width="1.5"/>
<g fill="#f2232a"><circle cx="853" cy="825.5" r="2"/><circle cx="853" cy="838.5" r="2"/><circle cx="853" cy="850" r="2"/></g>
<path d="M795,781V777H853V781" fill="none" stroke="#111" stroke-width="1.2"/>
<text x="824" y="775" font-size="11" text-anchor="middle">**</text>

<!-- ===== M ===== -->
<text x="738" y="917" font-size="19" text-anchor="middle">M</text>
<rect x="765" y="923" width="10" height="5" fill="none" stroke="#111" stroke-width="1.3"/>
<text x="786" y="930" font-size="12">shCtrl <tspan font-size="7" dy="-5">RM-1</tspan></text>
<rect x="765" y="939" width="10" height="5" fill="none" stroke="#f2232a" stroke-width="1.3"/>
<text x="786" y="946" font-size="12" fill="#f2232a">shS100A11 <tspan font-size="7" dy="-5">RM-1</tspan></text>
<g class="ax"><path d="M748,976V1075H899"/><path d="M744,1075H748M744,1050.3H748M744,1025.5H748M744,1000.8H748M744,976H748"/></g>
<g font-size="11" text-anchor="end"><text x="743" y="1079">0</text><text x="743" y="1054.3">20</text><text x="743" y="1029.5">40</text><text x="743" y="1004.8">60</text><text x="743" y="980">80</text></g>
<text transform="translate(719,1005) rotate(-90)" font-size="12" text-anchor="middle">CD8+ T-cell number (Center)</text>
<rect class="bk" x="771" y="1039" width="42" height="36"/>
<path d="M792,1030V1049M782,1030H802" stroke="#111" stroke-width="1.5"/>
<g fill="#111"><circle cx="792" cy="1028" r="2"/><circle cx="792" cy="1038" r="2"/><circle cx="792" cy="1044" r="2"/><circle cx="792" cy="1049" r="2"/></g>
<rect class="rd" x="834" y="1000.8" width="43" height="74.2"/>
<path d="M855.5,990V1013M845,990H866" stroke="#f2232a" stroke-width="1.5"/>
<g fill="#f2232a"><circle cx="855" cy="988" r="2"/><circle cx="855" cy="997" r="2"/><circle cx="855" cy="1007" r="2"/><circle cx="855" cy="1014" r="2"/></g>
<path d="M791,975V970H857V975" fill="none" stroke="#111" stroke-width="1.2"/>
<text x="824" y="966" font-size="11" text-anchor="middle">**</text>

<!-- ===== P ===== -->
<text x="737" y="1132" font-size="19" text-anchor="middle">P</text>
<rect x="767" y="1140" width="10" height="5" fill="none" stroke="#111" stroke-width="1.3"/>
<text x="786" y="1147" font-size="12">shCtrl <tspan font-size="7" dy="-5">RM-1</tspan></text>
<rect x="767" y="1159" width="10" height="5" fill="none" stroke="#f2232a" stroke-width="1.3"/>
<text x="786" y="1166" font-size="12" fill="#f2232a">shS100A11 <tspan font-size="7" dy="-5">RM-1</tspan></text>
<g class="ax"><path d="M748,1197V1295H899"/><path d="M744,1295H748M744,1262.3H748M744,1229.7H748M744,1197H748"/></g>
<g font-size="11" text-anchor="end"><text x="743" y="1299">0</text><text x="743" y="1266.3">20</text><text x="743" y="1233.7">40</text><text x="743" y="1201">60</text></g>
<text transform="translate(719,1225) rotate(-90)" font-size="12" text-anchor="middle">CD8+ T-cell number (Center)</text>
<rect class="bk" x="773" y="1228" width="43" height="67"/>
<path d="M797,1211V1228M788,1211H806" stroke="#111" stroke-width="1.5"/>
<g fill="#111"><circle cx="795" cy="1204" r="2"/><circle cx="795" cy="1230" r="2"/><circle cx="795" cy="1246" r="2"/></g>
<rect class="rd" x="838" y="1221" width="42" height="74"/>
<path d="M857.5,1203V1221M847,1203H868" stroke="#f2232a" stroke-width="1.5"/>
<g fill="#f2232a"><circle cx="858" cy="1202" r="2"/><circle cx="858" cy="1211" r="2"/><circle cx="858" cy="1231" r="2"/><circle cx="858" cy="1238" r="2"/></g>
<path d="M794,1194V1190H859V1194" fill="none" stroke="#111" stroke-width="1.2"/>
<text x="826" y="1186" font-size="10" text-anchor="middle">ns</text>
</svg>
</body></html>
